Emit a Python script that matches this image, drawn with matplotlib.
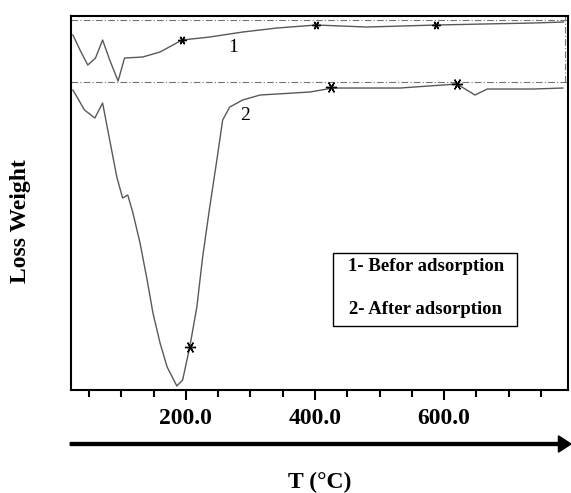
import matplotlib
matplotlib.use('Agg')
import matplotlib.pyplot as plt
from matplotlib.patches import Rectangle, FancyArrow

plt.rcParams['font.family'] = ['Liberation Serif', 'DejaVu Serif']

# curve 1 - before adsorption (T in degC, signal in arbitrary units)
t_before = [25, 36, 48, 60, 71, 82, 95, 105, 133, 160, 194, 237, 288, 341, 402,
            480, 588, 660, 738, 785]
w_before = [355, 340, 325, 332, 350, 330, 309, 332, 333, 338, 350, 353, 358, 362, 365,
            363, 365, 366, 367, 368]
mark_before_t = [194, 402, 588]
mark_before_w = [350, 365, 365]

# curve 2 - after adsorption
t_after = [25, 43, 59, 71, 82, 93, 102, 110, 118, 129, 140, 149, 160, 171, 186, 195,
           206, 217, 226, 237, 248, 257, 268, 288, 315, 392, 428, 532, 620, 648, 667,
           738, 784]
w_after = [300, 280, 272, 287, 250, 213, 192, 195, 177, 147, 110, 77, 47, 23, 4, 10,
           43, 83, 133, 183, 230, 270, 283, 290, 295, 298, 302, 302, 306, 295, 301,
           301, 302]
mark_after_t = [206, 425, 620]
mark_after_w = [43, 303, 306]

baselines = [370, 308]
major_ticks = [200, 400, 600]
major_labels = ['200.0', '400.0', '600.0']
minor_ticks = [50, 100, 150, 250, 300, 350, 450, 500, 550, 650, 700, 750]

fig = plt.figure(figsize=(5.71, 4.93), dpi=100)
ax = fig.add_axes([0.1243, 0.2089, 0.8704, 0.7586])

for b in baselines:
    ax.axhline(b, color='0.45', lw=0.8, ls=(0, (6, 2, 1, 2)))
# inner frame edge of the upper trace
ax.vlines(787, baselines[1], 374, color='0.45', lw=0.8, ls=(0, (6, 2, 1, 2)))

ax.plot(t_before, w_before, color='0.35', lw=1.0)
ax.plot(t_after, w_after, color='0.35', lw=1.0)
star = (6, 2, 90)
ax.plot(mark_before_t, mark_before_w, ls='none', marker=star, color='k', ms=6, mew=1.0)
ax.plot(mark_after_t, mark_after_w, ls='none', marker=star, color='k', ms=8, mew=1.0)

ax.text(273, 343, '1', fontsize=14, ha='center', va='center')
ax.text(291, 275, '2', fontsize=14, ha='center', va='center')

ax.set_xlim(22, 792)
ax.set_ylim(0, 374)
ax.set_xticks(major_ticks)
ax.set_xticklabels(major_labels, fontsize=17, fontweight='bold')
ax.set_xticks(minor_ticks, minor=True)
ax.tick_params(axis='x', which='major', direction='out', length=7, width=1.5, pad=6)
ax.tick_params(axis='x', which='minor', direction='out', length=5, width=1.5)
ax.set_yticks([])
for s in ax.spines.values():
    s.set_linewidth(1.5)

# legend box
ax.add_patch(Rectangle((0.527, 0.171), 0.370, 0.195, transform=ax.transAxes,
                       fill=False, edgecolor='k', lw=1.0))
ax.text(0.714, 0.329, '1- Befor adsorption', transform=ax.transAxes, ha='center',
        va='center', fontsize=13.5, fontweight='bold')
ax.text(0.714, 0.214, '2- After adsorption', transform=ax.transAxes, ha='center',
        va='center', fontsize=13.5, fontweight='bold')

# axis arrow + labels
fig.patches.append(FancyArrow(
    0.123, 0.0994, 0.855, 0, width=0.006, head_width=0.033, head_length=0.022,
    length_includes_head=False, color='k', transform=fig.transFigure))
fig.text(0.56, 0.022, 'T (°C)', ha='center', va='center', fontsize=17, fontweight='bold')
fig.text(0.036, 0.552, 'Loss Weight', ha='center', va='center', rotation=90,
         fontsize=17, fontweight='bold')

fig.savefig('out.png', dpi=100)
